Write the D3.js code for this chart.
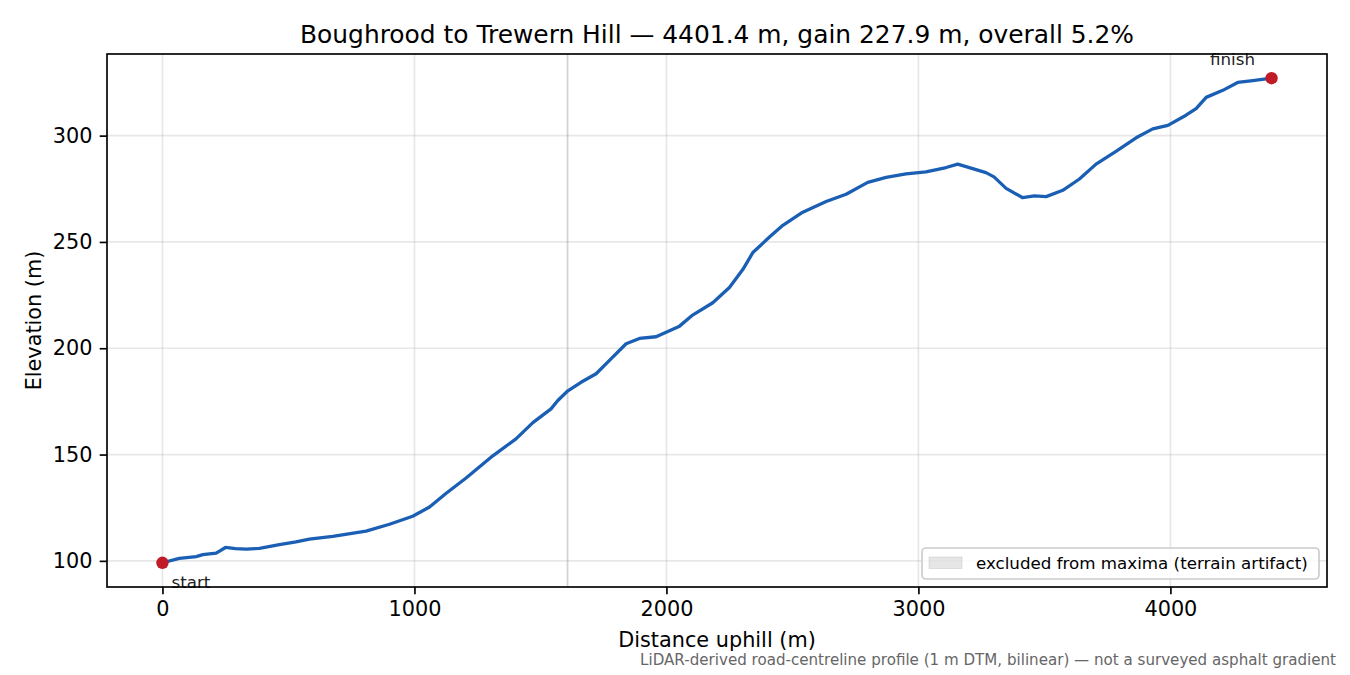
<!DOCTYPE html>
<html>
<head>
<meta charset="utf-8">
<script src="https://cdn.jsdelivr.net/npm/d3@7"></script>
<style>
  body { margin: 0; background: #fff; }
  svg { display: block; font-family: "DejaVu Sans", sans-serif; }
</style>
</head>
<body>
<div id="viz"></div>
<script>
  var distance, elevation, xTicks, yTicks, excludedRange, titleText, noteText;

  // profile (distance uphill m, elevation m)
  distance = [0, 67, 134, 160, 213, 225, 250, 290, 332, 385, 464, 530, 583, 676, 808, 901, 993, 1060, 1126, 1205,
    1311, 1403, 1470, 1542, 1569, 1609, 1661, 1721, 1774, 1840, 1893, 1959, 2052, 2104, 2184, 2250, 2303, 2343,
    2409, 2462, 2541, 2634, 2713, 2799, 2872, 2951, 3030, 3110, 3156, 3268, 3300, 3348, 3414, 3460, 3507, 3573,
    3639, 3705, 3784, 3864, 3930, 3990, 4062, 4102, 4142, 4208, 4267, 4327, 4401.4];

  elevation = [99.1, 101.2, 102.0, 102.9, 103.6, 104.5, 106.3, 105.8, 105.5, 105.9, 107.6, 108.9, 110.2, 111.5,
    114.0, 117.2, 121.0, 125.3, 131.8, 139.0, 149.4, 157.4, 165.0, 171.5, 175.4, 180.0, 184.0, 188.0, 194.3,
    202.1, 204.6, 205.4, 210.4, 215.6, 221.4, 228.6, 237.0, 245.0, 252.3, 257.8, 264.0, 269.0, 272.4, 278.0,
    280.4, 282.0, 283.0, 285.0, 286.6, 282.6, 280.6, 275.2, 270.8, 271.7, 271.3, 274.3, 279.6, 286.6, 292.6,
    299.0, 303.2, 304.8, 309.6, 312.7, 318.0, 321.3, 325.0, 325.9, 327.0];

  xTicks = [0, 1000, 2000, 3000, 4000];
  yTicks = [100, 150, 200, 250, 300];
  excludedRange = [1604, 1611];

  titleText = "Boughrood to Trewern Hill \u2014 4401.4 m, gain 227.9 m, overall 5.2%";
  noteText = "LiDAR-derived road-centreline profile (1 m DTM, bilinear) \u2014 not a surveyed asphalt gradient";

  var W = 1350, H = 675;
  var margin = { left: 107, right: 23, top: 54, bottom: 88 };
  var pw = W - margin.left - margin.right, ph = H - margin.top - margin.bottom;

  var data = distance.map(function(d, i) { return { x: d, y: elevation[i] }; });

  var xmax = d3.max(distance), ymin = d3.min(elevation), ymax = d3.max(elevation);
  var xpad = xmax * 0.05, ypad = (ymax - ymin) * 0.05;

  var x = d3.scaleLinear().domain([-xpad, xmax + xpad]).range([0, pw]);
  var y = d3.scaleLinear().domain([ymin - ypad, ymax + ypad]).range([ph, 0]);

  var svg = d3.select("#viz").append("svg").attr("width", W).attr("height", H);

  svg.append("text").attr("x", margin.left + pw / 2).attr("y", 43)
    .attr("text-anchor", "middle").style("font-size", "24.9px").style("fill", "#000").text(titleText);

  var g = svg.append("g").attr("transform", "translate(" + margin.left + "," + margin.top + ")");

  svg.append("defs").append("clipPath").attr("id", "plotclip")
    .append("rect").attr("width", pw).attr("height", ph);

  // grid
  g.selectAll(".xg").data(xTicks).enter().append("line")
    .attr("x1", function(d) { return x(d); }).attr("x2", function(d) { return x(d); })
    .attr("y1", 0).attr("y2", ph).style("stroke", "#b0b0b0").style("stroke-opacity", 0.3).style("stroke-width", 1.67);
  g.selectAll(".yg").data(yTicks).enter().append("line")
    .attr("y1", function(d) { return y(d); }).attr("y2", function(d) { return y(d); })
    .attr("x1", 0).attr("x2", pw).style("stroke", "#b0b0b0").style("stroke-opacity", 0.3).style("stroke-width", 1.67);

  // excluded band
  g.append("rect").attr("x", x(excludedRange[0])).attr("width", x(excludedRange[1]) - x(excludedRange[0]))
    .attr("y", 0).attr("height", ph).style("fill", "#808080").style("fill-opacity", 0.35);

  var line = d3.line().x(function(d) { return x(d.x); }).y(function(d) { return y(d.y); });

  var plot = g.append("g").attr("clip-path", "url(#plotclip)");
  plot.append("path").datum(data).attr("d", line)
    .style("fill", "none").style("stroke", "#1a5fb4").style("stroke-width", 3.3)
    .style("stroke-linejoin", "round").style("stroke-linecap", "round");

  var ends = [data[0], data[data.length - 1]];
  g.selectAll(".end").data(ends).enter().append("circle")
    .attr("cx", function(d) { return x(d.x); }).attr("cy", function(d) { return y(d.y); })
    .attr("r", 6.2).style("fill", "#c01c28");

  g.append("text").attr("x", x(ends[0].x) + 9).attr("y", y(ends[0].y) + 25)
    .style("font-size", "16.7px").style("fill", "#222").text("start");
  g.append("text").attr("x", x(ends[1].x) - 39).attr("y", y(ends[1].y) - 13)
    .attr("text-anchor", "middle").style("font-size", "16.7px").style("fill", "#222").text("finish");

  // axes
  var xAxis = d3.axisBottom(x).tickValues(xTicks).tickFormat(d3.format("d")).tickSizeOuter(0).tickSize(7.3).tickPadding(7.3);
  var yAxis = d3.axisLeft(y).tickValues(yTicks).tickFormat(d3.format("d")).tickSizeOuter(0).tickSize(7.3).tickPadding(7.3);

  var gx = g.append("g").attr("transform", "translate(0," + ph + ")").call(xAxis);
  var gy = g.append("g").call(yAxis);
  [gx, gy].forEach(function(ax) {
    ax.select(".domain").remove();
    ax.selectAll("line").style("stroke", "#000").style("stroke-width", 1.67);
    ax.selectAll("text").style("font-size", "20.8px").style("fill", "#000").style("font-family", "DejaVu Sans, sans-serif");
  });

  g.append("rect").attr("width", pw).attr("height", ph)
    .style("fill", "none").style("stroke", "#000").style("stroke-width", 1.67);

  svg.append("text").attr("x", margin.left + pw / 2).attr("y", 647)
    .attr("text-anchor", "middle").style("font-size", "20.8px").text("Distance uphill (m)");
  svg.append("text").attr("transform", "translate(41," + (margin.top + ph / 2) + ") rotate(-90)")
    .attr("text-anchor", "middle").style("font-size", "20.8px").text("Elevation (m)");

  // legend
  var lg = g.append("g").attr("transform", "translate(" + (pw - 405) + "," + (ph - 39) + ")");
  lg.append("rect").attr("width", 397).attr("height", 31).attr("rx", 4)
    .style("fill", "#fff").style("fill-opacity", 0.8).style("stroke", "#cccccc").style("stroke-width", 1.67);
  lg.append("rect").attr("x", 7).attr("y", 9).attr("width", 33).attr("height", 11.5)
    .style("fill", "#808080").style("fill-opacity", 0.2).style("stroke", "#808080").style("stroke-opacity", 0.2);
  lg.append("text").attr("x", 54).attr("y", 21).style("font-size", "16.7px").style("fill", "#000")
    .text("excluded from maxima (terrain artifact)");

  svg.append("text").attr("x", 1336).attr("y", 665).attr("text-anchor", "end")
    .style("font-size", "15.1px").style("fill", "#666").text(noteText);
</script>
</body>
</html>
